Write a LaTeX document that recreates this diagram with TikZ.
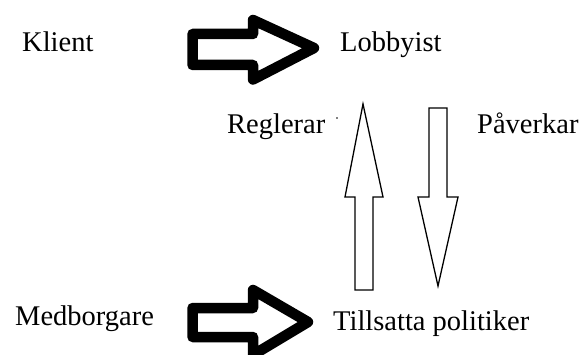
\documentclass[tikz,border=0pt]{standalone}
\usepackage{fontspec}
\setmainfont{Liberation Serif}
\begin{document}
\begin{tikzpicture}[x=1pt,y=1pt,
  lbl/.style={anchor=base west,inner sep=0pt,font=\fontsize{28.5}{30}\selectfont},
  fatarrow/.style={draw=black,line width=10.5pt,line join=round,fill=white},
  thinarrow/.style={draw=black,line width=1.3pt,line join=miter,fill=white}]
\useasboundingbox (0,0) rectangle (583,354);
% labels
\node[lbl] (klient) at (22,{354-52}) {Klient};
\node[lbl] (lobby) at (340,{354-52}) {Lobbyist};
\node[lbl] (regl) at (227,{354-133}) {Reglerar};
\node[lbl] (pav) at (477,{354-133}) {Påverkar};
\node[lbl] (medb) at (15,{354-325}) {Medborgare};
\node[lbl] (tills) at (333,{354-330}) {Tillsatta politiker};
\node[circle,fill=black,inner sep=0pt,minimum size=1.8pt] (dot) at (337,{354-118}) {};
% fat arrow top
\draw[fatarrow] (192.5,{354-34}) -- (253,{354-34}) -- (253,{354-20}) -- (314,{354-48})
  -- (253,{354-79.5}) -- (253,{354-65}) -- (192.5,{354-65}) -- cycle;
% fat arrow bottom
\draw[fatarrow] (192.5,{354-308}) -- (253,{354-308}) -- (253,{354-290}) -- (308,{354-322})
  -- (253,{354-355}) -- (253,{354-337}) -- (192.5,{354-337}) -- cycle;
% up arrow
\draw[thinarrow] (355,{354-290}) -- (355,{354-197}) -- (345,{354-197}) -- (363,{354-104})
  -- (383,{354-197}) -- (373,{354-197}) -- (373,{354-290}) -- cycle;
% down arrow
\draw[thinarrow] (429,{354-108}) -- (429,{354-197}) -- (418,{354-197}) -- (438,{354-286})
  -- (458,{354-197}) -- (447,{354-197}) -- (447,{354-108}) -- cycle;
\end{tikzpicture}
\end{document}
